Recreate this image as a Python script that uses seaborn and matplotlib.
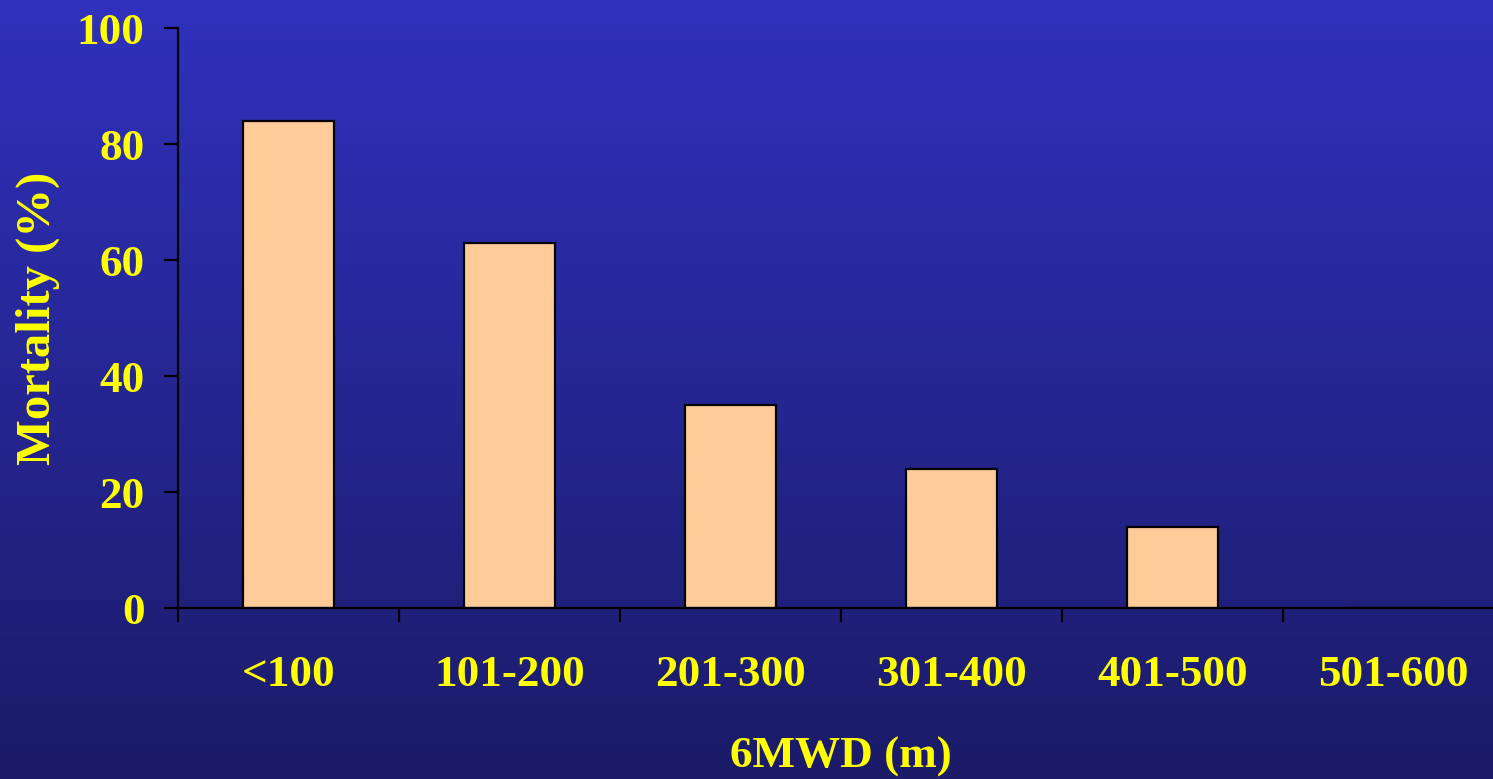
import numpy as np
import pandas as pd
import matplotlib
matplotlib.use("Agg")
import matplotlib.pyplot as plt
from matplotlib.colors import LinearSegmentedColormap
import seaborn as sns

# Six-minute walk distance bands and mortality per band
categories = ["<100", "101-200", "201-300", "301-400", "401-500", "501-600"]
mortality = [84, 63, 35, 24, 14, 0]
y_ticks = [0, 20, 40, 60, 80, 100]

df = pd.DataFrame({"band": categories, "mortality": mortality})

sns.set_theme(style="white")
plt.rcParams["font.family"] = ["Liberation Serif", "DejaVu Serif"]
plt.rcParams["font.weight"] = "bold"

text_color = "#FFFF00"
fs = 32.5
fig = plt.figure(figsize=(14.93, 7.79), dpi=100)

# Vertical blue gradient behind everything
bg = fig.add_axes([0, 0, 1, 1], zorder=-10)
grad = np.linspace(0, 1, 256).reshape(-1, 1)
cmap = LinearSegmentedColormap.from_list("bg", ["#3031BD", "#1B1B68"])
bg.imshow(grad, aspect="auto", cmap=cmap, extent=[0, 1, 0, 1], origin="upper")
bg.set_axis_off()

ax = fig.add_axes([0.1192, 0.2195, 0.888, 0.7445])
ax.set_facecolor("none")
ax.patch.set_alpha(0)

sns.barplot(data=df, x="band", y="mortality", ax=ax, width=0.41,
            color="#FFCC99", edgecolor="black", linewidth=1.6, saturation=1)

ax.set_xlim(-0.5, 5.5)
ax.set_ylim(0, 100)
ax.set_yticks(y_ticks)
ax.set_yticklabels([str(v) for v in y_ticks])

for s in ["top", "right"]:
    ax.spines[s].set_visible(False)
for s in ["left", "bottom"]:
    ax.spines[s].set_color("black")
    ax.spines[s].set_linewidth(1.6)

# Ticks at category boundaries on the x axis
ax.set_xticks(np.arange(len(categories)))
ax.set_xticklabels(categories)
ax.set_xticks(np.arange(-0.5, len(categories), 1.0), minor=True)
ax.tick_params(axis="x", which="major", length=0, pad=34,
               labelsize=fs, labelcolor=text_color)
ax.tick_params(axis="x", which="minor", length=10, width=1.6,
               color="black", direction="out", bottom=True)
ax.tick_params(axis="y", which="major", length=10, width=1.6,
               color="black", direction="out", left=True, pad=14,
               labelsize=fs, labelcolor=text_color)

for lab in ax.get_xticklabels() + ax.get_yticklabels():
    lab.set_fontweight("bold")

ax.set_xlabel("6MWD (m)", fontsize=fs, fontweight="bold", color=text_color,
              labelpad=30)
ax.set_ylabel("Mortality (%)", fontsize=35, fontweight="bold", color=text_color,
              labelpad=12)

fig.savefig("out.png", dpi=100)
